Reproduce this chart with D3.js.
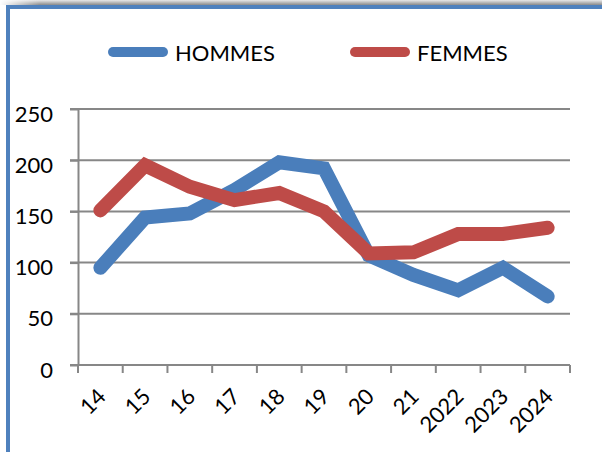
<!DOCTYPE html>
<meta charset="utf-8">
<style>
body { margin: 0; background: #fff; }
svg { display: block; font-family: Lato, "Liberation Sans", sans-serif; }
.axis path, .axis line { stroke: #878787; stroke-width: 2; }
.grid line { stroke: #878787; stroke-width: 2; }
</style>
<svg width="602" height="452"></svg>
<script src="https://d3js.org/d3.v7.min.js"></script>
<script>

var years = ["14", "15", "16", "17", "18", "19", "20", "21", "2022", "2023", "2024"];
var hommes = [95, 144, 148, 171, 198, 192, 107, 88, 73, 95, 67];
var femmes = [151, 195, 174, 161, 168, 150, 109, 110, 128, 128, 134];
var yTicks = [0, 50, 100, 150, 200, 250];

var svg = d3.select("svg");

// frame: shadow on top, blue border on top and left
var defs = svg.append("defs");
var grad = defs.append("linearGradient").attr("id", "shade")
  .attr("x1", 0).attr("y1", 0).attr("x2", 0).attr("y2", 1);
grad.append("stop").attr("offset", "0%").attr("stop-color", "#e8e8e8");
grad.append("stop").attr("offset", "100%").attr("stop-color", "#8a8a8a");
var gradH = defs.append("linearGradient").attr("id", "fadeL")
  .attr("x1", 0).attr("y1", 0).attr("x2", 1).attr("y2", 0);
gradH.append("stop").attr("offset", "0%").attr("stop-color", "#fff").attr("stop-opacity", 1);
gradH.append("stop").attr("offset", "100%").attr("stop-color", "#fff").attr("stop-opacity", 0);

svg.append("rect").attr("x", 0).attr("y", 0).attr("width", 602).attr("height", 5)
  .attr("fill", "url(#shade)");
svg.append("rect").attr("x", 0).attr("y", 0).attr("width", 40).attr("height", 5)
  .attr("fill", "url(#fadeL)");
svg.append("rect").attr("x", 6).attr("y", 5).attr("width", 596).attr("height", 4)
  .attr("fill", "#4f81bd");
svg.append("rect").attr("x", 6).attr("y", 5).attr("width", 4).attr("height", 447)
  .attr("fill", "#4f81bd");

var x = d3.scaleBand().domain(years).range([78, 570]).padding(0);
var y = d3.scaleLinear().domain([0, 250]).range([365, 109]);

// gridlines
svg.append("g").attr("class", "grid")
  .selectAll("line").data(yTicks.slice(1)).enter().append("line")
  .attr("x1", 70).attr("x2", 570)
  .attr("y1", function(d) { return y(d); })
  .attr("y2", function(d) { return y(d); });

var yAxis = svg.append("g")
  .attr("class", "axis")
  .attr("transform", "translate(78,0)")
  .call(d3.axisLeft(y).tickValues(yTicks).tickSize(8).tickPadding(17).tickSizeOuter(0));
yAxis.selectAll("text")
  .attr("font-size", 22).attr("font-family", "Lato").attr("fill", "#000").attr("dy", "0.55em");

var xAxis = svg.append("g")
  .attr("class", "axis")
  .attr("transform", "translate(0,365)");
xAxis.append("line").attr("x1", 70).attr("x2", 570);
xAxis.selectAll(".tk").data(years.concat(["end"])).enter().append("line")
  .attr("x1", function(d, i) { return 78 + i * x.bandwidth(); })
  .attr("x2", function(d, i) { return 78 + i * x.bandwidth(); })
  .attr("y1", 0).attr("y2", 8);
xAxis.selectAll("text").data(years).enter().append("text")
  .attr("text-anchor", "end")
  .attr("font-size", 22)
  .attr("fill", "#000")
  .attr("transform", function(d) {
    return "translate(" + (x(d) + x.bandwidth() / 2 - 4) + ",22) rotate(-45)";
  })
  .attr("dy", "0.7em")
  .text(function(d) { return d; });

var line = d3.line()
  .x(function(d, i) { return x(years[i]) + x.bandwidth() / 2; })
  .y(function(d) { return y(d); });

svg.append("path").datum(hommes)
  .attr("fill", "none").attr("stroke", "#4a7ebb").attr("stroke-width", 14)
  .attr("stroke-linecap", "round").attr("stroke-linejoin", "miter")
  .attr("d", line);
svg.append("path").datum(femmes)
  .attr("fill", "none").attr("stroke", "#be4b48").attr("stroke-width", 14)
  .attr("stroke-linecap", "round").attr("stroke-linejoin", "miter")
  .attr("d", line);

// legend
var legend = [
  {name: "HOMMES", color: "#4a7ebb", x: 108},
  {name: "FEMMES", color: "#be4b48", x: 350}
];
var lg = svg.selectAll(".lg").data(legend).enter().append("g")
  .attr("transform", function(d) { return "translate(" + d.x + ",52)"; });
lg.append("line").attr("x1", 5).attr("x2", 55).attr("y1", 0).attr("y2", 0)
  .attr("stroke", function(d) { return d.color; })
  .attr("stroke-width", 10).attr("stroke-linecap", "round");
lg.append("text").attr("x", 67).attr("y", 9).attr("font-size", 22).attr("fill", "#000")
  .text(function(d) { return d.name; });

</script>
